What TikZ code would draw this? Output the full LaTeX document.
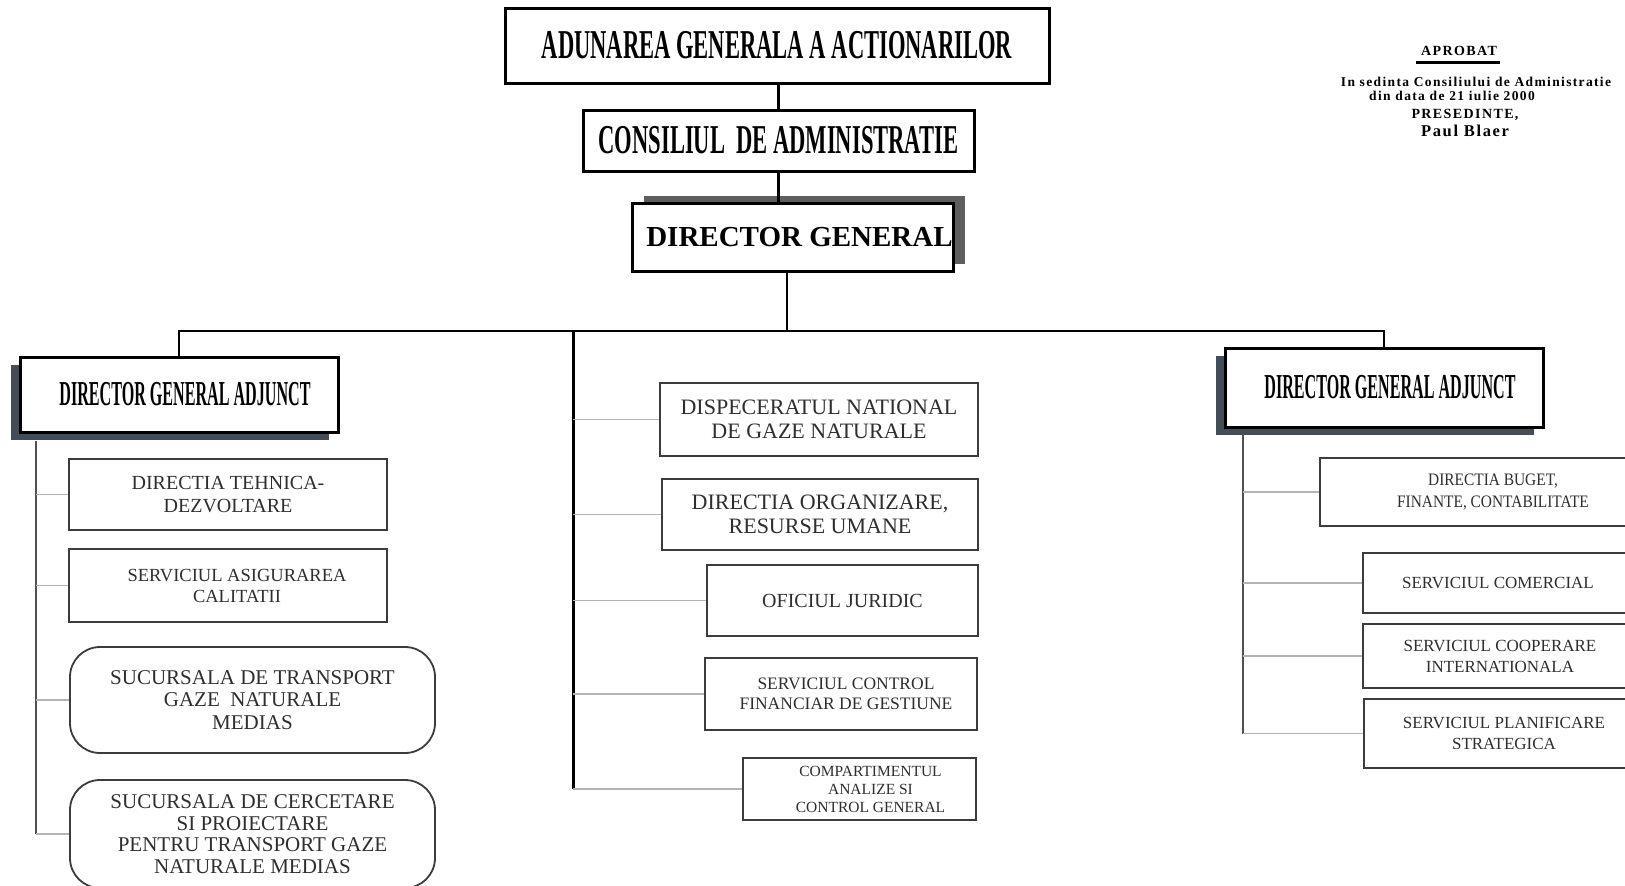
\documentclass[tikz,border=0pt]{standalone}
\usepackage{fontspec}
\setmainfont{Liberation Serif}
\newfontfamily\headfont[FakeStretch=0.55]{Liberation Serif}
\newfontfamily\adjfont[FakeStretch=0.46]{Liberation Serif}
\newfontfamily\narrowfont[FakeStretch=0.88]{Liberation Serif}
\newfontfamily\notefont[LetterSpace=10]{Liberation Serif}
\usetikzlibrary{shadows}

\definecolor{boxgray}{HTML}{3C3C3C}
\definecolor{textgray}{HTML}{2E2E2E}
\definecolor{twiggray}{HTML}{B4B4B4}
\definecolor{spinegray}{HTML}{505050}
\definecolor{shadowgray}{HTML}{5E5E5E}
\definecolor{shadowblue}{HTML}{434C57}

\begin{document}
\begin{tikzpicture}[
  x = 1pt, y = -1pt,
  top/.style = {draw, line width = 3pt, fill = white, inner sep = 0pt},
  chief/.style = {top, drop shadow = {shadow xshift = -9pt,
      shadow yshift = -8pt, fill = shadowblue, opacity = 1},
    font = \adjfont\bfseries\fontsize{35}{37}\selectfont},
  unit/.style = {draw = boxgray, line width = 1.8pt, fill = white,
    align = center, inner sep = 0pt, text = textgray,
    font = \fontsize{20}{23}\selectfont},
  main/.style = {line width = 2.5pt},
  spine/.style = {draw = spinegray, line width = 2pt},
  twig/.style = {draw = twiggray, line width = 1.5pt},
  note/.style = {inner sep = 0pt,
    font = \notefont\bfseries\fontsize{13.5}{15}\selectfont}
  ]

  \useasboundingbox (0, 0) rectangle (1625, 886);
  \clip (0, 0) rectangle (1625, 886);

  % Nodes
  \node at (777, 45.5) [top, minimum width = 544pt, minimum height = 75pt,
    font = \headfont\bfseries\fontsize{41}{43}\selectfont,
    name = adunarea] {ADUNAREA GENERALA A ACTIONARILOR};
  \node at (778.5, 140.5) [top, minimum width = 391pt, minimum height = 61pt,
    font = \headfont\bfseries\fontsize{41}{43}\selectfont,
    name = consiliu] {CONSILIUL\ \ DE ADMINISTRATIE};
  \node at (792.5, 237) [top, minimum width = 321pt, minimum height = 68pt,
    drop shadow = {shadow xshift = 12pt, shadow yshift = 7pt,
      fill = shadowgray, opacity = 1},
    font = \bfseries\fontsize{29}{31}\selectfont,
    name = dirgen] {\hspace*{14pt}DIRECTOR GENERAL};

  \node at (179, 394.5) [chief, minimum width = 318pt, minimum height = 75pt,
    name = dgaL] {\hspace*{12pt}DIRECTOR GENERAL ADJUNCT};
  \node at (1384, 387.5) [chief, minimum width = 318pt, minimum height = 79pt,
    name = dgaR] {\hspace*{12pt}DIRECTOR GENERAL ADJUNCT};

  % left branch
  \node at (228, 494.5) [unit, minimum width = 318pt, minimum height = 71pt,
    name = tehnica] {DIRECTIA TEHNICA-\\DEZVOLTARE};
  \node at (228, 585.5) [unit, minimum width = 318pt, minimum height = 73pt,
    font = \fontsize{18.5}{21}\selectfont,
    name = calitate] {\hspace*{18pt}SERVICIUL ASIGURAREA\\\hspace*{18pt}CALITATII};
  \node at (252.5, 700) [unit, rounded corners = 30pt, minimum width = 365pt,
    minimum height = 106pt, font = \fontsize{21}{22.5}\selectfont,
    name = sucTransport] {SUCURSALA DE TRANSPORT\\GAZE\ \ NATURALE\\MEDIAS};
  \node at (252.5, 834) [unit, rounded corners = 30pt, minimum width = 365pt,
    minimum height = 108pt, font = \fontsize{21}{21.7}\selectfont,
    name = sucCercetare] {SUCURSALA DE CERCETARE\\SI PROIECTARE\\
    PENTRU TRANSPORT GAZE\\NATURALE MEDIAS};

  % middle branch
  \node at (819, 419.5) [unit, minimum width = 318pt, minimum height = 73pt,
    font = \fontsize{22}{24.5}\selectfont,
    name = dispecerat] {DISPECERATUL NATIONAL\\DE GAZE NATURALE};
  \node at (820, 514.5) [unit, minimum width = 316pt, minimum height = 71pt,
    font = \fontsize{22}{24.5}\selectfont,
    name = organizare] {DIRECTIA ORGANIZARE,\\RESURSE UMANE};
  \node at (842.5, 600.5) [unit, minimum width = 271pt, minimum height = 71pt,
    name = juridic] {OFICIUL JURIDIC};
  \node at (841, 694) [unit, minimum width = 272pt, minimum height = 72pt,
    font = \fontsize{17.5}{20}\selectfont,
    name = control] {\hspace*{10pt}SERVICIUL CONTROL\\\hspace*{10pt}FINANCIAR DE GESTIUNE};
  \node at (859.5, 789) [unit, minimum width = 233pt, minimum height = 62pt,
    font = \fontsize{15.5}{18}\selectfont,
    name = analize] {\hspace*{22pt}COMPARTIMENTUL\\\hspace*{22pt}ANALIZE SI\\
    \hspace*{22pt}CONTROL GENERAL};

  % right branch
  \node at (1493, 492) [unit, minimum width = 346pt, minimum height = 68pt,
    font = \narrowfont\fontsize{17.5}{22}\selectfont,
    name = buget] {DIRECTIA BUGET,\\FINANTE, CONTABILITATE};
  \node at (1498, 583) [unit, minimum width = 270pt, minimum height = 60pt,
    font = \fontsize{17}{21}\selectfont,
    name = comercial] {SERVICIUL COMERCIAL};
  \node at (1500, 656) [unit, minimum width = 274pt, minimum height = 64pt,
    font = \fontsize{17}{21}\selectfont,
    name = cooperare] {SERVICIUL COOPERARE\\INTERNATIONALA};
  \node at (1504, 733.5) [unit, minimum width = 280pt, minimum height = 69pt,
    font = \fontsize{17}{21}\selectfont,
    name = planificare] {SERVICIUL PLANIFICARE\\STRATEGICA};

  % approval note
  \node at (1459, 51) [note, font = \notefont\bfseries\fontsize{14}{16}\selectfont,
    name = aprobat] {APROBAT};
  \node at (1476, 82) [note, name = sedinta] {In sedinta Consiliului de Administratie};
  \node at (1452, 96) [note, name = dindata] {din data de 21 iulie 2000};
  \node at (1465, 115) [note, font = \notefont\bfseries\fontsize{14}{16}\selectfont,
    name = presedinte] {PRESEDINTE,};
  \node at (1465, 131) [note, font = \notefont\bfseries\fontsize{16.5}{18}\selectfont,
    name = semnatura] {Paul Blaer};
  \draw [line width = 2.5pt] ([xshift = -5pt, yshift = -7pt] aprobat.base west)
    -- ([xshift = 3pt, yshift = -7pt] aprobat.base east);

  % Lines
  \coordinate (busC) at (787, 331);
  \coordinate (midTop) at (573, 331);
  \coordinate (leftTop) at (36, 441);
  \coordinate (rightTop) at (1243, 434);

  \draw [main] (consiliu.north) -- (consiliu.north |- adunarea.south);
  \draw [main] (consiliu.south) -- (consiliu.south |- dirgen.north);
  \draw [main] (dirgen.south -| busC) -- (busC);
  \draw [main] (dgaL.north) |- (busC) -| (dgaR.north);
  \draw [line width = 3pt] (midTop) -- (midTop |- analize);

  \draw [spine] (leftTop) -- (leftTop |- sucCercetare);
  \draw [spine] (rightTop) -- (rightTop |- planificare);

  \foreach \n in {tehnica, calitate, sucTransport, sucCercetare}
    \draw [twig] (leftTop |- \n) -- (\n.west);
  \foreach \n in {dispecerat, organizare, juridic, control, analize}
    \draw [twig] (midTop |- \n) -- (\n.west);
  \foreach \n in {buget, comercial, cooperare, planificare}
    \draw [twig] (rightTop |- \n) -- (\n.west);

\end{tikzpicture}
\end{document}
